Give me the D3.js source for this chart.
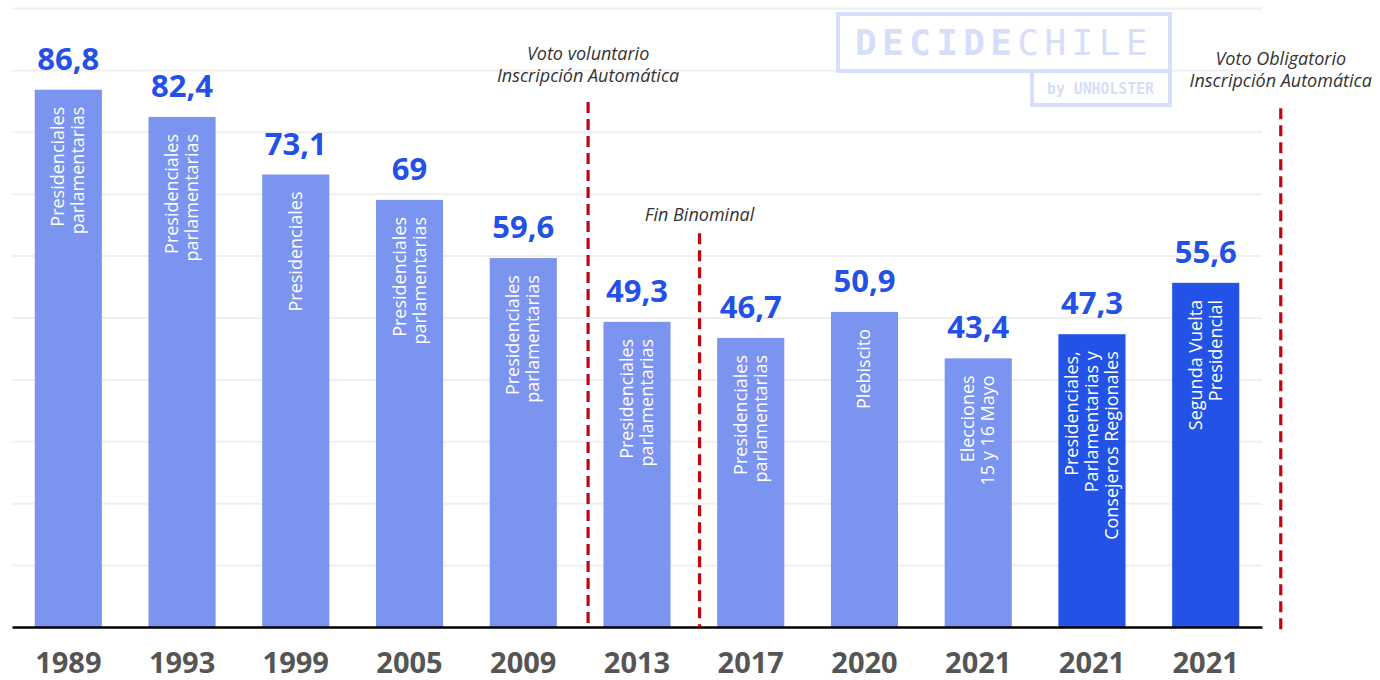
<!DOCTYPE html>
<html>
<head>
<meta charset="utf-8">
<script src="https://cdn.jsdelivr.net/npm/d3@7/dist/d3.min.js"></script>
<style>
  html, body { margin: 0; padding: 0; background: #fff; }
  svg { display: block; }
</style>
</head>
<body>
<svg id="chart" width="1380" height="680"></svg>
<script>
// ---------- data ----------
const years = ["1989","1993","1999","2005","2009","2013","2017","2020","2021","2021","2021"];
const values = [86.8, 82.4, 73.1, 69, 59.6, 49.3, 46.7, 50.9, 43.4, 47.3, 55.6];
const barLabels = [
  ["Presidenciales","parlamentarias"],
  ["Presidenciales","parlamentarias"],
  ["Presidenciales"],
  ["Presidenciales","parlamentarias"],
  ["Presidenciales","parlamentarias"],
  ["Presidenciales","parlamentarias"],
  ["Presidenciales","parlamentarias"],
  ["Plebiscito"],
  ["Elecciones","15 y 16 Mayo"],
  ["Presidenciales,","Parlamentarias y","Consejeros Regionales"],
  ["Segunda Vuelta","Presidencial"]
];
const highlighted = [false,false,false,false,false,false,false,false,false,true,true];
const gridTicks = [10,20,30,40,50,60,70,80,90,100];
// reference lines: position expressed as fractional bar index
const refPositions = [4.57, 5.55, 10.66];
const refTops = [84.8, 63.6, 83.8];      // value where each dashed line starts
const refLabelValues = [88.0, 65.6, 87.2]; // value of the last annotation baseline
const refTexts = [
  ["Voto voluntario","Inscripción Automática"],
  ["Fin Binominal"],
  ["Voto Obligatorio","Inscripción Automática"]
];

// ---------- layout ----------
const svg = d3.select("#chart");
const mLeft = 12, mRight = 1262, mTop = 8, mBottom = 627;
const idx = d3.range(values.length);

const x = d3.scaleBand().domain(idx).range([mLeft, mRight]).paddingInner(0.41).paddingOuter(0.2);
const y = d3.scaleLinear().domain([0, 100]).range([mBottom, mTop]);
const xPos = f => {
  const i = Math.floor(f);
  return x(i) + x.bandwidth() / 2 + (f - i) * x.step();
};

const fmt = v => String(v).replace(".", ",");
const lightBlue = "#7b94f0", darkBlue = "#2353e6", labelBlue = "#2350e6";

// gridlines
const grid = svg.append("g")
  .attr("transform", `translate(${mLeft},0)`)
  .call(d3.axisLeft(y).tickValues(gridTicks).tickSize(-(mRight - mLeft)).tickFormat(""));
grid.select(".domain").remove();
grid.selectAll(".tick line").attr("stroke", "#efefef").attr("stroke-width", 2);

// logo (background watermark)
const logoColor = "#d6defa";
const logo = svg.append("g");
logo.append("rect").attr("x", 838).attr("y", 14).attr("width", 332).attr("height", 57)
  .attr("fill", "none").attr("stroke", logoColor).attr("stroke-width", 4);
logo.append("path").attr("d", "M1032,71 V105 H1170 V71")
  .attr("fill", "none").attr("stroke", logoColor).attr("stroke-width", 4);
const lt = logo.append("text").attr("x", 855).attr("y", 55)
  .attr("font-family", "'DejaVu Sans Mono', monospace").attr("font-size", 36)
  .attr("letter-spacing", "5.4px").attr("fill", logoColor);
lt.append("tspan").attr("font-weight", 700).text("DECIDE");
lt.append("tspan").attr("font-weight", 400).text("CHILE");
logo.append("text").attr("x", 1047).attr("y", 94)
  .attr("font-family", "'DejaVu Sans Mono', monospace").attr("font-size", 16).attr("font-weight", 700)
  .attr("textLength", 107).attr("lengthAdjust", "spacingAndGlyphs")
  .attr("fill", logoColor).text("by UNHOLSTER");

// bars
svg.append("g").selectAll("rect").data(idx).join("rect")
  .attr("x", i => x(i))
  .attr("y", i => y(values[i]))
  .attr("width", x.bandwidth())
  .attr("height", i => y(0) - y(values[i]))
  .attr("fill", i => highlighted[i] ? darkBlue : lightBlue);

// value labels
svg.append("g").selectAll("text").data(idx).join("text")
  .attr("x", i => x(i) + x.bandwidth() / 2)
  .attr("y", i => y(values[i]) - 20)
  .attr("text-anchor", "middle")
  .attr("font-family", "'Open Sans', sans-serif")
  .attr("font-weight", 700).attr("font-size", 31)
  .attr("fill", labelBlue)
  .text(i => fmt(values[i]));

// inner rotated labels
const inner = svg.append("g").selectAll("text").data(idx).join("text")
  .attr("transform", i => `translate(${x(i) + x.bandwidth() / 2},${y(values[i]) + 17}) rotate(-90)`)
  .attr("text-anchor", "end")
  .attr("font-family", "'Open Sans', sans-serif")
  .attr("font-size", 18)
  .attr("fill", "#ffffff");
inner.each(function(i) {
  const lines = barLabels[i];
  const n = lines.length;
  d3.select(this).selectAll("tspan").data(lines).join("tspan")
    .attr("x", 0)
    .attr("y", (d, k) => (k - (n - 1) / 2) * 20 + 6)
    .text(d => d);
});

// x axis
const xAxis = svg.append("g")
  .attr("transform", `translate(0,${mBottom})`)
  .call(d3.axisBottom(x).tickSize(0).tickSizeOuter(0).tickPadding(25).tickFormat(i => years[i]));
xAxis.select(".domain").attr("stroke", "#000").attr("stroke-width", 2.5);
xAxis.selectAll(".tick text")
  .attr("font-family", "'Open Sans', sans-serif")
  .attr("font-weight", 700).attr("font-size", 29)
  .attr("fill", "#555555")
  .attr("dy", "0.71em");

// reference dashed lines + annotations
const refs = svg.append("g");
refPositions.forEach((p, k) => {
  const xx = xPos(p);
  refs.append("line")
    .attr("x1", xx).attr("x2", xx)
    .attr("y1", y(refTops[k])).attr("y2", mBottom + (k === 2 ? 3 : 0))
    .attr("stroke", "#c40412").attr("stroke-width", 3.2)
    .attr("stroke-dasharray", "11,6");
  const lines = refTexts[k];
  const t = refs.append("text")
    .attr("text-anchor", "middle")
    .attr("font-family", "'Open Sans', sans-serif")
    .attr("font-style", "italic").attr("font-size", 18)
    .attr("fill", "#333333");
  const baseY = y(refLabelValues[k]) - (lines.length - 1) * 22;
  lines.forEach((l, j) => {
    t.append("tspan").attr("x", xx).attr("y", baseY + j * 22).text(l);
  });
});
</script>
</body>
</html>
